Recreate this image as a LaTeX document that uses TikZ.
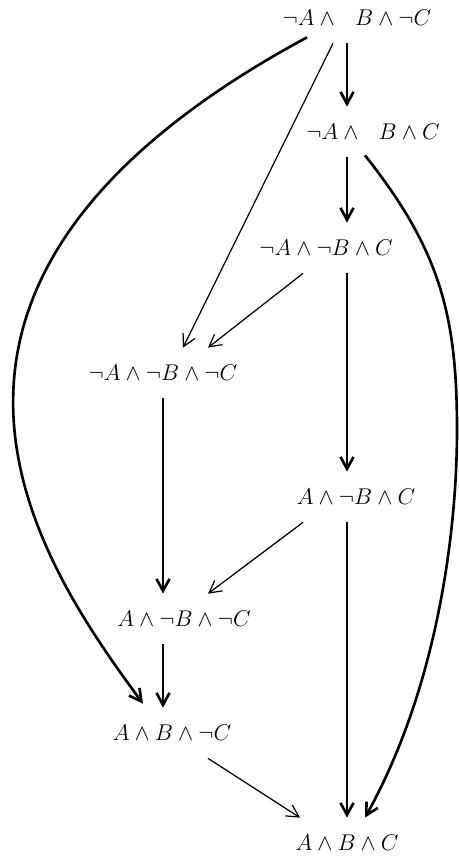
\documentclass[tikz,border=0pt]{standalone}
\usepackage{amsmath,amssymb}
\usetikzlibrary{calc,arrows.meta}
\newcommand{\lit}[1]{\scalebox{1.08}{$#1$}}

\begin{document}
\begin{tikzpicture}[x=0.02cm, y=-0.02cm, >={Straight Barb[length=2.4mm,width=2.6mm]},
  every node/.style={font=\large, inner xsep=2pt, minimum height=1cm},
  main/.style={->, line width=1.5pt},
  side/.style={->, line width=0.7pt}]
\useasboundingbox (0,0) rectangle (458,857);
\node (b) at (357,18) {\lit{\neg A\wedge\phantom{\neg}B\wedge\neg C}};
\node (bc) at (373,132) {\lit{\neg A\wedge\phantom{\neg}B\wedge C}};
\node (c) at (326,248) {\lit{\neg A\wedge\neg B\wedge C}};
\node (none) at (163,373) {\lit{\neg A\wedge\neg B\wedge\neg C}};
\node (ac) at (356,497) {\lit{A\wedge\neg B\wedge C}};
\node (a) at (184,619) {\lit{A\wedge\neg B\wedge\neg C}};
\node (ab) at (172,733) {\lit{A\wedge B\wedge\neg C}};
\node (abc) at (347,843) {\lit{A\wedge B\wedge C}};
% thick edges
\draw[main] (b.south -| abc) -- (bc.north -| abc);
\draw[main] (bc.south -| abc) -- (c.north -| abc);
\draw[main] (c.south -| abc) -- (ac.north -| abc);
\draw[main] (ac.south -| abc) -- (abc.north);
\draw[main] (none.south) -- (a.north -| none);
\draw[main] (a.south -| none) -- (ab.north -| none);
\draw[main] ($(b.south)+(-50,-6)$) .. controls (-152,285) and (38,561) .. ($(ab.north)+(-29,-4)$);
\draw[main] ($(bc.south)+(-8,-2)$) .. controls (440,250) and (457,315) .. (457,430)
  .. controls (457,530) and (438,686) .. ($(abc.north)+(18,0)$);
% thin edges
\draw[side] ($(b.south)+(-24,0)$) -- ($(none.north)+(20,0)$);
\draw[side] ($(c.south)+(-23,0)$) -- ($(none.north)+(45,0)$);
\draw[side] ($(ac.south)+(-53,0)$) -- ($(a.north)+(24,0)$);
\draw[side] ($(ab.south)+(36,0)$) -- ($(abc.north)+(-47,0)$);
\end{tikzpicture}
\end{document}
